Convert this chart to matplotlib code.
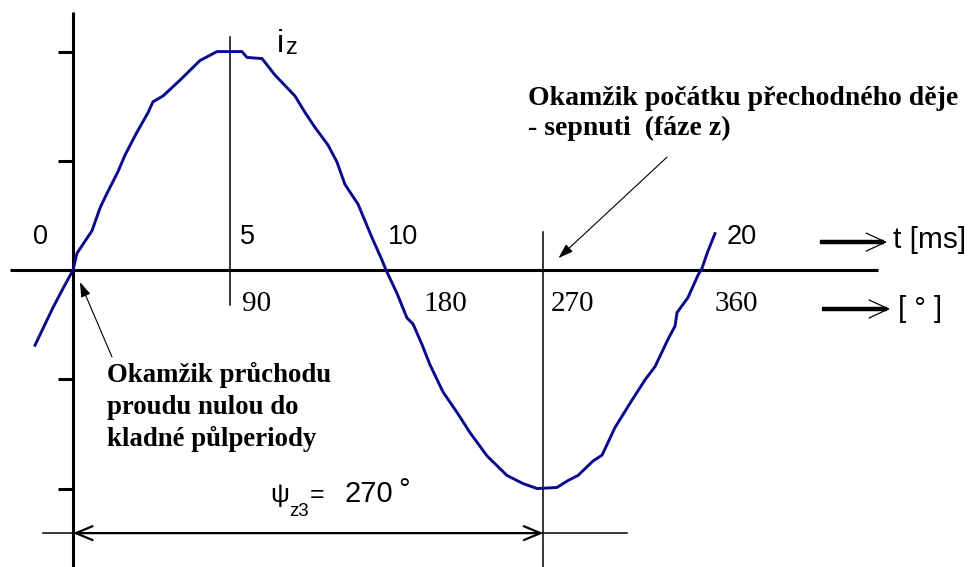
import matplotlib
matplotlib.use("Agg")
import matplotlib.pyplot as plt

# Current i_z over one period: phase angle [deg] and relative amplitude
phase_deg = [-21.8, -11.5, -5.7, 0.0, 2.3, 10.9, 15.5, 19.5, 25.8, 29.9, 36.7,
             43.1, 45.9, 51.7, 61.4, 72.9, 82.7, 97.0, 99.9, 108.5, 116.0,
             127.4, 133.2, 138.9, 146.4, 151.5, 156.1, 163.6, 171.6, 177.4,
             179.7, 186.0, 191.7, 195.2, 200.3, 204.9, 212.4, 220.4, 227.9,
             237.7, 249.1, 258.3, 266.4, 277.8, 284.2, 289.9, 298.5, 303.7,
             311.1, 320.9, 328.4, 334.1, 341.6, 345.6, 346.7, 353.0, 358.8,
             361.1, 364.0, 368.5]
current = [-0.344, -0.172, -0.084, 0.0, 0.077, 0.180, 0.284, 0.351, 0.450,
           0.527, 0.631, 0.721, 0.770, 0.797, 0.869, 0.959, 1.0, 1.0, 0.973,
           0.968, 0.892, 0.797, 0.721, 0.653, 0.572, 0.495, 0.392, 0.302,
           0.149, 0.045, 0.0, -0.107, -0.219, -0.247, -0.340, -0.433, -0.558,
           -0.651, -0.744, -0.851, -0.940, -0.977, -1.0, -0.995, -0.963,
           -0.940, -0.874, -0.847, -0.721, -0.595, -0.502, -0.442, -0.316,
           -0.256, -0.195, -0.126, -0.023, 0.009, 0.077, 0.167]

y_ticks = [1.0, 0.5, -0.5, -1.0]
time_labels = ["0", "5", "10", "20"]
time_pos = [-18.9, 95.9, 180.8, 375.4]
angle_labels = ["90", "180", "270", "360"]
angle_pos = [97.0, 201.0, 274.4, 368.5]
switch_angle = 270.0
peak_angle = 90.0

NAVY = "#0a0a8c"
SANS = "Liberation Sans"
SERIF = "Liberation Serif"

fig = plt.figure(figsize=(9.74, 5.67), dpi=100)
ax = fig.add_axes([0, 0, 1, 1])
ax.set_xlim(-41.9, 517.2)
ax.set_ylim(-1.359, 1.236)
ax.axis("off")

# axes
ax.plot([0, 0], [-1.4, 1.181], color="black", lw=2.2, solid_capstyle="butt")
ax.plot([-36.2, 462.1], [0, 0], color="black", lw=2.2, solid_capstyle="butt")
for yt in y_ticks:
    ax.plot([-8.6, 0], [yt, yt], color="black", lw=2.2, solid_capstyle="butt")

# guide lines at the peak and at the switching instant
ax.plot([peak_angle, peak_angle], [1.066, -0.16], color="black", lw=1.1)
ax.plot([switch_angle, switch_angle], [0.174, -1.4], color="black", lw=1.1)

# current waveform
ax.plot(phase_deg, current, color=NAVY, lw=2.1, solid_joinstyle="round")

# time and angle labels
for lab, xp in zip(time_labels, time_pos):
    ha = "center" if lab == "0" else "left"
    ax.text(xp, 0.15, lab, family=SANS, fontsize=19.5, ha=ha, va="center")
for lab, xp in zip(angle_labels, angle_pos):
    ax.text(xp, -0.155, lab, family=SERIF, fontsize=21, ha="left", va="center")

# axis unit arrows
def unit_arrow(x0, x1, y):
    ax.plot([x0, x1 - 2], [y, y], color="black", lw=3.2, solid_capstyle="butt")
    ax.annotate("", xy=(x1, y), xytext=(x0, y),
                arrowprops=dict(arrowstyle="->,head_length=1.4,head_width=0.65",
                                lw=0.9, color="black", shrinkA=0, shrinkB=0))

unit_arrow(428.8, 467.3, 0.128)
unit_arrow(430.0, 469.0, -0.178)
ax.text(470.7, 0.137, "t [ms]", family=SANS, fontsize=21.5, ha="left", va="center")
ax.text(473.6, -0.178, "[ ° ]", family=SANS, fontsize=21, ha="left", va="center")

# i_z label
ax.text(117.3, 1.0, "i", family=SANS, fontsize=23, ha="left", va="baseline")
ax.text(122.3, 0.99, "z", family=SANS, fontsize=17, ha="left", va="baseline")

# explanatory notes
upper_kw = dict(family=SERIF, fontsize=20, fontweight="bold", ha="left", va="baseline")
lower_kw = dict(upper_kw, fontsize=19.3)
ax.text(261.2, 0.755, "Okamžik počátku přechodného děje", **upper_kw)
ax.text(261.2, 0.618, "- sepnuti  (fáze z)", **upper_kw)
ax.text(19.5, -0.513, "Okamžik průchodu", **lower_kw)
ax.text(19.5, -0.659, "proudu nulou do", **lower_kw)
ax.text(19.5, -0.805, "kladné půlperiody", **lower_kw)

ptr = dict(arrowstyle="-|>,head_length=0.9,head_width=0.3", lw=0.8,
           color="black", shrinkA=0, shrinkB=0)
ax.annotate("", xy=(278.7, 0.055), xytext=(341.0, 0.517), arrowprops=ptr)
ax.annotate("", xy=(4.0, -0.055), xytext=(22.4, -0.398), arrowprops=ptr)

# switching phase dimension
dim_y = -1.204
ax.plot([-17.2, 318.0], [dim_y, dim_y], color="black", lw=1.1)
ax.annotate("", xy=(0, dim_y), xytext=(switch_angle, dim_y),
            arrowprops=dict(arrowstyle="<->,head_length=1.2,head_width=0.5",
                            lw=1.6, color="black", shrinkA=0, shrinkB=0))
ax.text(113.1, -1.062, "ψ", family=SANS, fontsize=19, ha="left", va="baseline")
ax.text(124.0, -1.126, "z3", family=SANS, fontsize=13.5, ha="left", va="baseline")
ax.text(136.0, -1.062, "=", family=SANS, fontsize=18, ha="left", va="baseline")
ax.text(156.1, -1.062, "270", family=SANS, fontsize=21, ha="left", va="baseline")
ax.text(186.8, -1.045, "°", family=SANS, fontsize=21, ha="left", va="baseline")

fig.savefig("out.png", dpi=100)
